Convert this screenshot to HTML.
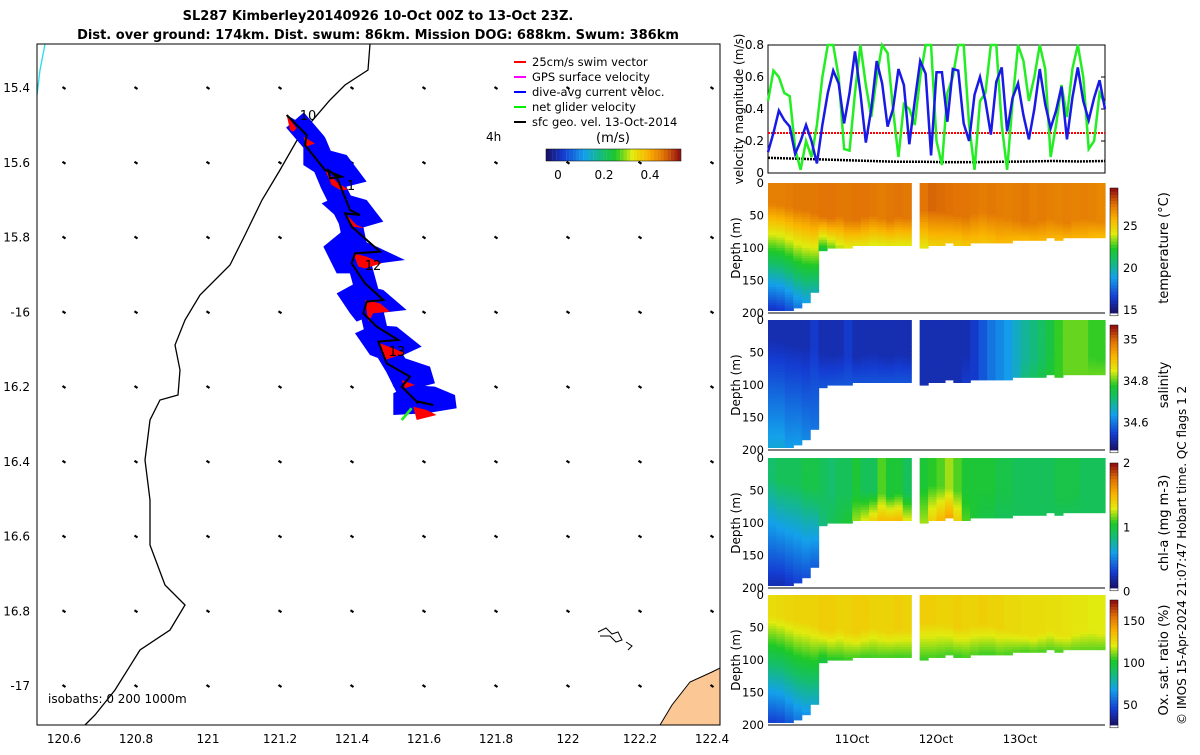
<!DOCTYPE html>
<html><head><meta charset="utf-8"><style>
body{margin:0;background:#fff;width:1200px;height:750px;overflow:hidden;font-family:"Liberation Sans",sans-serif}
svg text{font-family:"DejaVu Sans","Liberation Sans",sans-serif}
</style></head><body>
<svg id="fig" width="1200" height="750" xmlns="http://www.w3.org/2000/svg">
<text x="378" y="20" text-anchor="middle" font-size="13" font-weight="bold">SL287 Kimberley20140926 10-Oct 00Z to 13-Oct 23Z.</text>
<text x="378" y="39" text-anchor="middle" font-size="13" font-weight="bold">Dist. over ground: 174km. Dist. swum: 86km. Mission DOG: 688km. Swum: 386km</text>
<g id="map"></g>
<g id="vel"></g>
<g id="heat"></g>
<text transform="translate(1186,725) rotate(-90)" font-size="12">© IMOS 15-Apr-2024 21:07:47 Hobart time. QC flags 1  2</text>
</svg>
<script>
// ---------- data ----------
const lonTicks=[120.6,120.8,121,121.2,121.4,121.6,121.8,122,122.2,122.4];
const latTicks=[15.4,15.6,15.8,16,16.2,16.4,16.6,16.8,17];
const velBlue=[0.13,0.25,0.39,0.33,0.29,0.12,0.2,0.3,0.2,0.06,0.3,0.5,0.64,0.56,0.31,0.5,0.76,0.5,0.19,0.4,0.7,0.56,0.29,0.4,0.65,0.55,0.18,0.45,0.7,0.62,0.11,0.63,0.63,0.32,0.65,0.64,0.31,0.2,0.49,0.6,0.45,0.24,0.57,0.66,0.26,0.47,0.56,0.36,0.21,0.4,0.65,0.43,0.28,0.39,0.54,0.21,0.47,0.66,0.45,0.33,0.47,0.58,0.40];
const velGreen=[0.45,0.64,0.6,0.5,0.48,0.15,0.02,0.2,0.1,0.3,0.6,0.8,0.8,0.6,0.15,0.14,0.5,0.8,0.55,0.35,0.6,0.8,0.75,0.4,0.1,0.43,0.4,0.3,0.6,0.8,0.8,0.2,0.05,0.5,0.6,0.8,0.8,0.3,0.02,0.45,0.5,0.8,0.8,0.3,0.02,0.45,0.8,0.7,0.45,0.6,0.8,0.65,0.1,0.3,0.55,0.35,0.65,0.8,0.6,0.15,0.2,0.5,0.43];
const velSwim=0.25;
const velGeo=[0.095,0.09,0.085,0.08,0.075,0.07,0.07,0.068,0.068,0.07,0.072,0.075,0.072,0.075];
const velTicks=[0,0.2,0.4,0.6,0.8];
const dayLabels=["11Oct","12Oct","13Oct"];
const maxDepth=[196,195,193,190,182,165,102,100,98,97,96,96,95,96,95,94,95,0,97,95,93,92,93,94,92,90,90,92,90,88,86,86,85,84,85,84,83,82,82,81];
const mixedDepth=[30,32,35,38,40,45,50,52,50,55,55,50,48,52,55,50,52,0,40,40,42,45,48,50,45,42,45,48,52,55,58,60,55,52,58,60,55,52,55,58];
const tempSurf=[27.3,27.3,27.4,27.5,27.5,27.5,27.6,27.6,27.5,27.5,27.6,27.6,27.5,27.4,27.5,27.6,27.5,0,27.6,27.9,27.8,27.7,27.6,27.6,27.5,27.4,27.5,27.4,27.3,27.4,27.5,27.3,27.4,27.3,27.2,27.3,27.2,27.3,27.2,27.1];
const tempDeep=[15.5,15.8,16.5,17.5,18.5,19.5,21.5,22.5,23.5,24,24,24,23.8,23.8,24,24,24,0,24.2,24.8,25,25,25,25.2,25.3,25.3,25.4,25.6,25.6,25.6,25.6,25.8,25.8,25.8,25.7,25.8,25.8,25.8,25.6,25.6];
const salSurf=[34.5,34.5,34.5,34.5,34.5,34.52,34.5,34.5,34.5,34.52,34.5,34.5,34.5,34.5,34.5,34.5,34.5,0,34.5,34.5,34.5,34.5,34.5,34.5,34.52,34.55,34.58,34.6,34.62,34.65,34.68,34.7,34.72,34.75,34.78,34.8,34.8,34.8,34.78,34.78];
const salDeep=[34.64,34.64,34.62,34.62,34.6,34.58,34.55,34.55,34.55,34.55,34.55,34.55,34.55,34.55,34.55,34.55,34.55,0,34.5,34.5,34.5,34.5,34.5,34.52,34.52,34.55,34.58,34.6,34.62,34.65,34.7,34.72,34.74,34.76,34.78,34.8,34.8,34.8,34.8,34.8];
const chlSurf=[0.85,0.9,0.9,0.9,0.95,0.95,0.9,0.85,0.9,0.9,1.0,0.9,0.9,1.1,1.0,1.0,0.9,0,1.0,1.05,1.1,1.2,1.1,1.0,1.0,1.0,1.0,0.95,0.95,0.9,0.9,0.9,0.9,0.9,0.95,0.95,0.95,0.9,0.9,0.9];
const chlDeep=[0.15,0.15,0.2,0.25,0.3,0.35,0.8,0.9,0.95,1.0,1.2,1.3,1.4,1.5,1.5,1.5,1.3,0,1.2,1.4,1.5,1.6,1.4,1.1,1.0,0.95,0.95,0.9,0.9,0.9,0.9,0.9,0.9,0.9,0.9,0.9,0.9,0.9,0.9,0.9];
const oxySurf=[125,126,127,128,128,128,130,130,128,128,130,130,128,128,128,130,128,0,130,130,128,128,130,128,128,130,128,128,126,126,125,125,125,124,124,123,122,122,120,120];
const oxyDeep=[40,42,48,55,62,70,95,100,102,104,104,103,104,104,104,104,104,0,104,105,105,104,104,105,105,104,104,105,105,105,105,106,106,106,106,108,108,108,108,108];

// ---------- helpers ----------
const NS="http://www.w3.org/2000/svg";
function mk(tag,attrs,parent){const e=document.createElementNS(NS,tag);for(const k in attrs)e.setAttribute(k,attrs[k]);parent.appendChild(e);return e;}
const CST=[[0,[25,20,110]],[0.12,[20,60,210]],[0.28,[20,160,235]],[0.42,[20,190,110]],[0.52,[30,200,40]],[0.64,[225,235,15]],[0.76,[250,180,0]],[0.88,[225,115,5]],[1,[150,20,15]]];
function jet(t){t=Math.max(0,Math.min(1,t));for(let i=1;i<CST.length;i++){if(t<=CST[i][0]){const a=CST[i-1],b=CST[i],f=(t-a[0])/(b[0]-a[0]);const c=a[1].map((v,k)=>Math.round(v+(b[1][k]-v)*f));return `rgb(${c[0]},${c[1]},${c[2]})`;}}return 'rgb(150,20,15)';}

// ---------- map ----------
const map=document.getElementById('map');
const MX0=37,MX1=720,MY0=44,MY1=725;
const lonX=l=>64+(l-120.6)*360, latY=l=>88+(l-15.4)*373.75;
mk('rect',{x:MX0,y:MY0,width:MX1-MX0,height:MY1-MY0,fill:'#fff'},map);
let land=mk('polygon',{points:'660,725 672,705 690,682 712,672 720,668 720,725',fill:'#fbc794',stroke:'#000','stroke-width':1},map);

let coast=mk('polyline',{points:'370,44 368,70 345,85 330,100 300,135 280,170 262,200 245,235 230,265 200,295 185,320 175,345 180,370 178,395 160,400 150,420 145,460 150,500 150,545 165,585 185,605 170,630 140,650 115,690 95,715 85,725',fill:'none',stroke:'#000','stroke-width':1.3},map);

let cy=mk('polyline',{points:'45,44 40,70 37,95',fill:'none',stroke:'#22ddee','stroke-width':1.3},map);

mk('polyline',{points:'598,632 606,628 612,634 618,632 622,640 616,642 610,636 600,636',fill:'none',stroke:'#000','stroke-width':1},map);
mk('polyline',{points:'626,642 632,646 628,650',fill:'none',stroke:'#000','stroke-width':1},map);
for(const lo of lonTicks){for(const la of latTicks){const x=lonX(lo),y=latY(la);const a=mk('line',{x1:x-1.5,y1:y-1,x2:x+1.5,y2:y+1,stroke:'#000','stroke-width':2.2},map);}}
const tg=mk('g',{transform:'translate(270,100) scale(0.3333)'},map);

const trackPts='50,45 110,105 105,135 165,210 215,230 180,235 175,210 200,230 240,330 270,345 225,340 245,380 330,455 255,460 245,490 285,550 340,600 290,605 280,640 320,680 385,720 325,725 350,790 420,830 395,860 440,905 490,915 445,905 440,910';
mk('polyline',{points:'75,60 135,130 185,250 240,360 265,480 295,590 320,700 380,800 430,900',fill:'none',stroke:'#0000ff','stroke-width':70,'stroke-linejoin':'round'},tg);
const blobs=['50,45 155,105 110,112 100,135 60,80','100,130 230,165 290,245 230,260 170,240 100,195','155,310 220,280 290,300 340,365 270,385 200,350','160,440 215,395 320,440 405,480 330,490 240,520 200,520','200,580 255,550 340,570 410,630 320,640 260,665 240,640','255,700 310,675 380,680 455,740 390,770 340,780 300,765','350,790 405,775 480,800 495,850 420,870 370,860','370,880 420,855 495,860 555,885 560,925 470,940 370,945'];
blobs.forEach(p=>mk('polygon',{points:p,fill:'#0000ff'},tg));
const reds=['50,45 80,85 70,95 60,90','100,110 135,130 110,140','165,210 205,250 235,268 215,272 185,255','225,340 260,375 285,385 250,380','250,460 290,470 335,490 285,505 265,500','285,600 330,610 360,635 310,640 295,665','330,730 370,745 405,760 360,775 345,780','395,840 435,855 405,865','430,920 470,930 500,945 440,960'];
reds.forEach(p=>mk('polygon',{points:p,fill:'#ff0000'},tg));
mk('polyline',{points:trackPts,fill:'none',stroke:'#000','stroke-width':6},tg);
mk('polyline',{points:'425,925 395,960',fill:'none',stroke:'#22ee22','stroke-width':8},tg);
[['10',308,120],['12',373,270],['13',397,356],['1',351,190]].forEach(([t,x,y])=>{const e=mk('text',{x:x,y:y,'font-size':13,'text-anchor':'middle'},map);e.textContent=t;});
const legItems=[['#ff0000','25cm/s swim vector'],['#ff00ff','GPS surface velocity'],['#0000ff','dive-avg current veloc.'],['#00ee00','net glider velocity'],['#000','sfc geo. vel. 13-Oct-2014']];
legItems.forEach((it,i)=>{const y=62+i*15;const g=mk('g',{},map);mk('line',{x1:514,y1:y,x2:526,y2:y,stroke:it[0],'stroke-width':2},g);const t=mk('text',{x:532,y:y+4,'font-size':11.5},g);t.textContent=it[1];});
let t4=mk('text',{x:486,y:141,'font-size':12},map);t4.textContent='4h';
let tms=mk('text',{x:613,y:142,'font-size':13,'text-anchor':'middle'},map);tms.textContent='(m/s)';
for(let i=0;i<40;i++)mk('rect',{x:546+i*3.37,y:149,width:3.5,height:12,fill:jet(i/39)},map);
mk('rect',{x:546,y:149,width:135,height:12,fill:'none',stroke:'#000','stroke-width':0.5},map);
[['0',558],['0.2',604],['0.4',650]].forEach(([t,x])=>{const e=mk('text',{x:x,y:179,'font-size':12,'text-anchor':'middle'},map);e.textContent=t;});
let iso=mk('text',{x:48,y:703,'font-size':12},map);iso.textContent='isobaths: 0   200  1000m';
mk('rect',{x:MX0,y:MY0,width:MX1-MX0,height:MY1-MY0,fill:'none',stroke:'#000','stroke-width':1},map);
lonTicks.forEach(l=>{const e=mk('text',{x:lonX(l),y:743,'font-size':12,'text-anchor':'middle'},map);e.textContent=String(l);});
latTicks.forEach(l=>{const e=mk('text',{x:30,y:latY(l)+4,'font-size':12,'text-anchor':'end'},map);e.textContent=l===16||l===17?'-'+l:String(l);});

// ---------- velocity panel ----------
const vel=document.getElementById('vel');
const VX0=768,VX1=1105,VY0=45,VY1=173;
const vy=v=>VY1-(v/0.8)*(VY1-VY0);
const vx=(i,n)=>VX0+i*(VX1-VX0)/(n-1);
mk('rect',{x:VX0,y:VY0,width:VX1-VX0,height:VY1-VY0,fill:'#fff',stroke:'#000','stroke-width':1},vel);
velTicks.forEach(v=>{const e=mk('text',{x:VX0-4,y:vy(v)+4,'font-size':12,'text-anchor':'end'},vel);e.textContent=String(v);mk('line',{x1:VX1-4,y1:vy(v),x2:VX1,y2:vy(v),stroke:'#000'},vel);});
let sw=mk('line',{x1:VX0,y1:vy(velSwim),x2:VX1,y2:vy(velSwim),stroke:'#ff0000','stroke-width':2,'stroke-dasharray':'2,1'},vel);

let gl=mk('polyline',{points:velGeo.map((v,i)=>vx(i,velGeo.length)+','+vy(v)).join(' '),fill:'none',stroke:'#000','stroke-width':2.5,'stroke-dasharray':'2,1'},vel);

let gr=mk('polyline',{points:velGreen.map((v,i)=>vx(i,velGreen.length)+','+vy(v)).join(' '),fill:'none',stroke:'#22ee22','stroke-width':2.5},vel);

let bl=mk('polyline',{points:velBlue.map((v,i)=>vx(i,velBlue.length)+','+vy(v)).join(' '),fill:'none',stroke:'#1a1ae6','stroke-width':2.5},vel);

let vl=mk('text',{transform:'translate(743,109) rotate(-90)','font-size':12,'text-anchor':'middle'},vel);vl.textContent='velocity magnitude (m/s)';

// ---------- section panels ----------
const heat=document.getElementById('heat');
const panels=[
 {y0:183,surf:tempSurf,deep:tempDeep,min:14.2,max:29.5,ticks:[15,20,25],label:'temperature (°C)',name:'temperature-section'},
 {y0:320,surf:salSurf,deep:salDeep,min:34.45,max:35.07,ticks:[34.6,34.8,35],label:'salinity',name:'salinity-section'},
 {y0:458,surf:chlSurf,deep:chlDeep,min:0,max:2,ticks:[0,1,2],label:'chl-a (mg m-3)',name:'chla-section'},
 {y0:595,surf:oxySurf,deep:oxyDeep,min:22,max:175,ticks:[50,100,150],label:'Ox. sat. ratio (%)',name:'oxygen-section'}];
const H=130,nC=maxDepth.length,cw=(VX1-VX0)/nC;
panels.forEach(p=>{
 const g=mk('g',{},heat);
 const dy=d=>p.y0+d/200*H;
 for(let c=0;c<nC;c++){const md=maxDepth[c];if(!md)continue;const ml=mixedDepth[c];
  for(let d=0;d<md;d+=4){const v=d<ml?p.surf[c]:p.surf[c]+(p.deep[c]-p.surf[c])*Math.min(1,(d-ml)/Math.max(10,md-ml));
   mk('rect',{x:VX0+c*cw,y:dy(d),width:cw+0.6,height:H/50+0.6,fill:jet((v-p.min)/(p.max-p.min))},g);}}
 mk('line',{x1:VX0,y1:p.y0+H,x2:VX1,y2:p.y0+H,stroke:'#000','stroke-width':1},g);
 [0,50,100,150,200].forEach(d=>{const e=mk('text',{x:VX0-4,y:dy(d)+4,'font-size':11.5,'text-anchor':'end'},g);e.textContent=String(d);});
 const yl=mk('text',{transform:`translate(740,${p.y0+H/2}) rotate(-90)`,'font-size':12,'text-anchor':'middle'},g);yl.textContent='Depth (m)';
 const cb=mk('g',{},g);
 for(let i=0;i<40;i++)mk('rect',{x:1110,y:p.y0+5+H*(39-i)/40*0.96,width:8,height:H/40+0.5,fill:jet(i/39)},cb);
 mk('rect',{x:1110,y:p.y0+5,width:8,height:H*0.96+3,fill:'none',stroke:'#000','stroke-width':0.5},cb);
 p.ticks.forEach(t=>{const y=p.y0+5+H*0.99*(1-(t-p.min)/(p.max-p.min));const e=mk('text',{x:1123,y:y+4,'font-size':11.5},cb);e.textContent=String(t);});
 const cl=mk('text',{transform:`translate(1168,${p.y0+H/2}) rotate(-90)`,'font-size':13,'text-anchor':'middle'},g);cl.textContent=p.label;
});
dayLabels.forEach((t,i)=>{const e=mk('text',{x:852+i*84,y:743,'font-size':11.5,'text-anchor':'middle'},heat);e.textContent=t;});
</script>
</body></html>
